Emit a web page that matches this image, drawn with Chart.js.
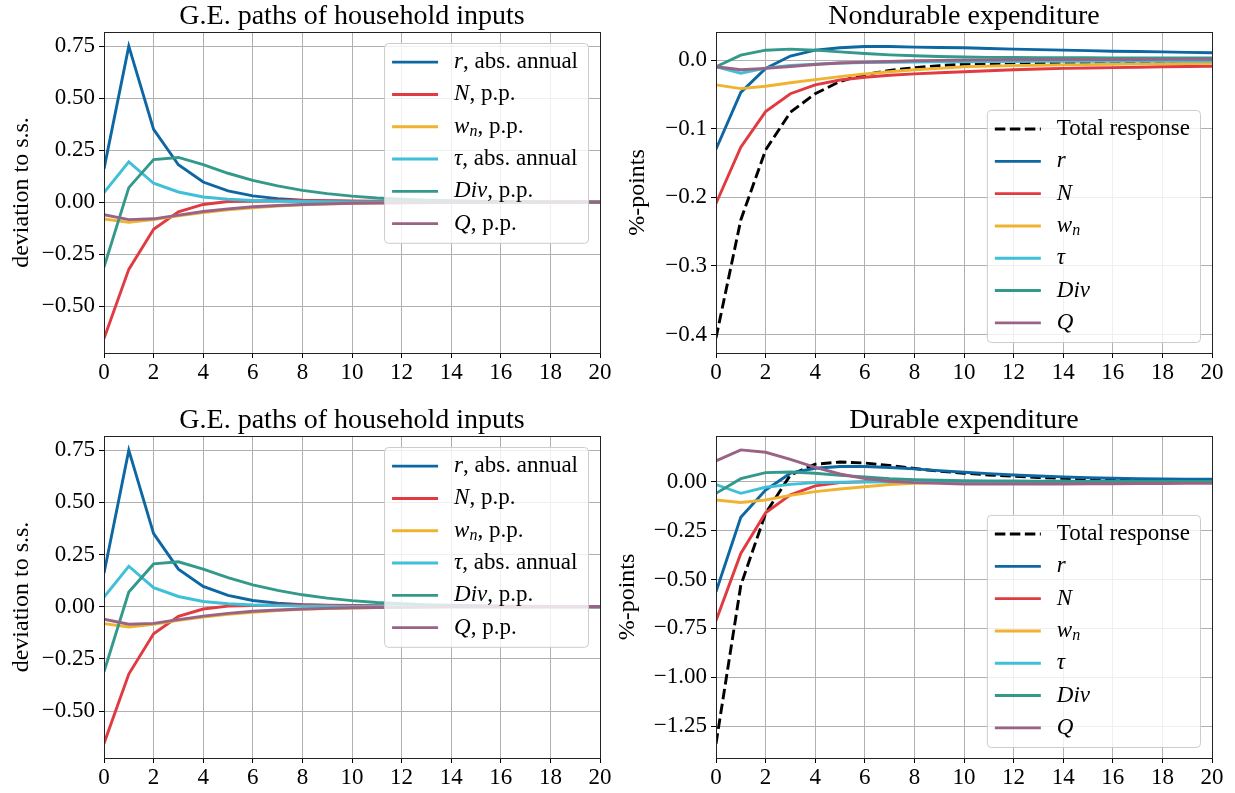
<!DOCTYPE html>
<html lang="en">
<head>
<meta charset="UTF-8">
<title>G.E. decomposition</title>
<style>
    body { margin: 0; background: #fff; }
    .wrap { position: relative; width: 1235px; height: 793px; }
    canvas { position: absolute; left: 0; top: 0; }
</style>
</head>
<body>
<div class="wrap">
    <canvas id="c0" width="1235" height="793"></canvas>
    <canvas id="c1" width="1235" height="793"></canvas>
    <canvas id="c2" width="1235" height="793"></canvas>
    <canvas id="c3" width="1235" height="793"></canvas>
</div>

<script src="https://cdn.jsdelivr.net/npm/chart.js"></script>
<script>
// horizon (quarters after shock)
const horizon = [0,1,2,3,4,5,6,7,8,9,10,11,12,13,14,15,16,17,18,19,20];

// series names (italic symbol, subscript)
const seriesSym = ['r', 'N', 'w', 'τ', 'Div', 'Q'];
const seriesSub = ['', '', 'n', '', '', ''];
const inputUnits = [', abs. annual', ', p.p.', ', p.p.', ', abs. annual', ', p.p.', ', p.p.'];
const totalLabel = 'Total response';

// G.E. paths of household inputs
const inR   = [0.16, 0.75, 0.35, 0.18, 0.097, 0.054, 0.03, 0.017, 0.01, 0.006, 0.004, 0.003, 0.002, 0.001, 0.001, 0.001, 0, 0, 0, 0, 0];
const inN   = [-0.655, -0.323, -0.13, -0.046, -0.011, 0.003, 0.006, 0.008, 0.008, 0.007, 0.006, 0.005, 0.004, 0.003, 0.003, 0.002, 0.002, 0.001, 0.001, 0.001, 0.001];
const inW   = [-0.081, -0.097, -0.084, -0.065, -0.05, -0.037, -0.027, -0.019, -0.013, -0.009, -0.006, -0.004, -0.003, -0.002, -0.001, -0.001, -0.001, 0, 0, 0, 0];
const inTau = [0.046, 0.194, 0.091, 0.049, 0.025, 0.014, 0.008, 0.005, 0.003, 0.002, 0.001, 0.001, 0.001, 0, 0, 0, 0, 0, 0, 0, 0];
const inDiv = [-0.312, 0.07, 0.205, 0.215, 0.18, 0.139, 0.105, 0.078, 0.057, 0.041, 0.029, 0.02, 0.014, 0.01, 0.007, 0.005, 0.003, 0.002, 0.001, 0.001, 0];
const inQ   = [-0.06, -0.084, -0.08, -0.062, -0.045, -0.032, -0.022, -0.016, -0.011, -0.008, -0.005, -0.004, -0.003, -0.002, -0.001, -0.001, 0, 0, 0, 0, 0];

// Nondurable expenditure decomposition
const ndTotal = [-0.405, -0.233, -0.131, -0.076, -0.049, -0.031, -0.021, -0.015, -0.011, -0.008, -0.006, -0.005, -0.004, -0.004, -0.003, -0.003, -0.003, -0.003, -0.003, -0.003, -0.003];
const ndR   = [-0.13, -0.047, -0.012, 0.006, 0.0145, 0.018, 0.0198, 0.0198, 0.019, 0.0185, 0.018, 0.017, 0.016, 0.0153, 0.0146, 0.0138, 0.013, 0.0125, 0.012, 0.0113, 0.0107];
const ndN   = [-0.209, -0.127, -0.075, -0.049, -0.036, -0.029, -0.025, -0.022, -0.02, -0.0185, -0.017, -0.0155, -0.014, -0.013, -0.012, -0.0115, -0.011, -0.0103, -0.0097, -0.0093, -0.009];
const ndW   = [-0.036, -0.0415, -0.038, -0.033, -0.0285, -0.024, -0.02, -0.017, -0.014, -0.012, -0.0097, -0.0088, -0.008, -0.0075, -0.007, -0.0065, -0.006, -0.0055, -0.0052, -0.005, -0.0048];
const ndTau = [-0.0097, -0.019, -0.0116, -0.0077, -0.0058, -0.0043, -0.0034, -0.003, -0.0027, -0.0025, -0.0023, -0.0021, -0.002, -0.0019, -0.0018, -0.0017, -0.0016, -0.0015, -0.0014, -0.0013, -0.0012];
const ndDiv = [-0.0097, 0.0072, 0.0145, 0.016, 0.0145, 0.012, 0.0097, 0.0077, 0.0063, 0.0052, 0.0045, 0.004, 0.0038, 0.0036, 0.0035, 0.0034, 0.0033, 0.0032, 0.0031, 0.003, 0.003];
const ndQ   = [-0.0097, -0.014, -0.012, -0.0092, -0.0063, -0.0043, -0.0029, -0.002, -0.001, -0.0004, 0, 0.0003, 0.0005, 0.0007, 0.0008, 0.0009, 0.001, 0.001, 0.0011, 0.0011, 0.0012];

// Durable expenditure decomposition
const dTotal = [-1.339, -0.53, -0.162, 0.034, 0.089, 0.1, 0.095, 0.082, 0.067, 0.053, 0.043, 0.034, 0.027, 0.021, 0.017, 0.013, 0.01, 0.008, 0.006, 0.005, 0.004];
const dR   = [-0.563, -0.182, -0.043, 0.043, 0.068, 0.077, 0.077, 0.072, 0.065, 0.056, 0.048, 0.041, 0.034, 0.029, 0.024, 0.02, 0.017, 0.015, 0.0136, 0.0125, 0.012];
const dN   = [-0.711, -0.367, -0.159, -0.068, -0.022, -0.005, 0, 0.002, 0.002, 0.002, 0.001, 0.001, 0, 0, 0, 0, 0, 0, 0, 0, 0];
const dW   = [-0.094, -0.107, -0.094, -0.07, -0.051, -0.038, -0.026, -0.015, -0.009, -0.005, -0.003, -0.002, -0.002, -0.001, -0.001, -0.001, -0.001, 0, 0, 0, 0];
const dTau = [-0.015, -0.06, -0.029, -0.014, -0.005, -0.003, -0.002, -0.001, -0.001, 0, 0, 0, 0, 0, 0, 0, 0, 0, 0, 0, 0];
const dDiv = [-0.06, 0.015, 0.046, 0.049, 0.043, 0.032, 0.024, 0.015, 0.01, 0.007, 0.005, 0.004, 0.003, 0.002, 0.002, 0.001, 0.001, 0.001, 0.001, 0.001, 0.001];
const dQ   = [0.106, 0.162, 0.15, 0.114, 0.073, 0.039, 0.015, 0.002, -0.005, -0.009, -0.012, -0.012, -0.012, -0.012, -0.012, -0.011, -0.011, -0.01, -0.01, -0.009, -0.009];

// tick labels
const xTicks = [0,2,4,6,8,10,12,14,16,18,20];
const yTicksInputs = [-0.5, -0.25, 0, 0.25, 0.5, 0.75];
const yTicksNondur = [-0.4, -0.3, -0.2, -0.1, 0];
const yTicksDur = [-1.25, -1, -0.75, -0.5, -0.25, 0];

const colors = ['#0c67a2', '#e13a40', '#efb330', '#3fbfd8', '#33998a', '#9a6385'];
const SERIF = '"Liberation Serif", "DejaVu Serif", serif';
const W = 1235, H = 793;
const LW = 2.9;

function fmt(v, dec) {
    const s = Math.abs(v).toFixed(dec);
    return (v < -1e-9 ? '\u2212' : '') + s;
}

// draw one legend label: italic symbol, optional subscript, roman rest
function drawLabel(ctx, x, y, sym, sub, rest) {
    ctx.textBaseline = 'middle';
    ctx.textAlign = 'left';
    if (sym) {
        ctx.font = 'italic 23px ' + SERIF;
        ctx.fillText(sym, x, y);
        x += ctx.measureText(sym).width;
    }
    if (sub) {
        ctx.font = 'italic 16px ' + SERIF;
        ctx.fillText(sub, x, y + 5);
        x += ctx.measureText(sub).width;
    }
    if (rest) {
        ctx.font = '23px ' + SERIF;
        ctx.fillText(rest, x, y);
        x += ctx.measureText(rest).width;
    }
    return x;
}

const framePlugin = {
    id: 'frame',
    afterDatasetsDraw(chart, args, opts) {
        const ctx = chart.ctx, a = chart.chartArea;
        ctx.save();
        ctx.strokeStyle = '#222';
        ctx.lineWidth = 1;
        ctx.strokeRect(Math.round(a.left) + 0.5, Math.round(a.top) + 0.5,
            Math.round(a.right - a.left), Math.round(a.bottom - a.top));

        // legend
        const items = opts.items;
        const rowH = 32.3;
        let maxW = 0;
        items.forEach(it => {
            let w = 0;
            ctx.font = 'italic 23px ' + SERIF; w += ctx.measureText(it.sym || '').width;
            ctx.font = 'italic 16px ' + SERIF; w += ctx.measureText(it.sub || '').width;
            ctx.font = '23px ' + SERIF; w += ctx.measureText(it.rest || '').width;
            maxW = Math.max(maxW, w);
        });
        const boxW = 8 + 46 + 16 + maxW + 10;
        const boxH = items.length * rowH + 6;
        const bx = a.right - 12 - boxW;
        const by = opts.place === 'top' ? a.top + 11 : a.bottom - 11 - boxH;
        ctx.beginPath();
        ctx.roundRect(bx + 0.5, by + 0.5, boxW, boxH, 4);
        ctx.fillStyle = 'rgba(255,255,255,0.8)';
        ctx.fill();
        ctx.strokeStyle = '#cccccc';
        ctx.stroke();
        items.forEach((it, i) => {
            const cy = by + 3 + rowH * (i + 0.5);
            ctx.beginPath();
            ctx.strokeStyle = it.color;
            ctx.lineWidth = LW;
            ctx.setLineDash(it.dash || []);
            ctx.moveTo(bx + 8, cy);
            ctx.lineTo(bx + 54, cy);
            ctx.stroke();
            ctx.setLineDash([]);
            ctx.fillStyle = '#000';
            drawLabel(ctx, bx + 70, cy, it.sym, it.sub, it.rest);
        });
        ctx.restore();
    },
    afterDraw(chart, args, opts) {
        const ctx = chart.ctx, a = chart.chartArea;
        ctx.save();
        ctx.fillStyle = '#000';
        ctx.font = '28px ' + SERIF;
        ctx.textAlign = 'center';
        ctx.textBaseline = 'alphabetic';
        ctx.fillText(opts.title, (a.left + a.right) / 2, a.top - 8);
        ctx.translate(a.left - opts.yTitleOff, (a.top + a.bottom) / 2);
        ctx.rotate(-Math.PI / 2);
        ctx.font = '24px ' + SERIF;
        ctx.fillText(opts.yTitle, 0, 0);
        ctx.restore();
    }
};

function makeChart(id, p) {
    const yW = 70, xH = 30;
    const datasets = p.series.map((s, i) => ({
        data: s.data.map((v, k) => ({ x: horizon[k], y: v })),
        borderColor: s.color,
        borderWidth: LW,
        borderDash: s.dash || [],
        pointRadius: 0,
        tension: 0,
        fill: false,
        order: p.series.length - i
    }));
    const tickFont = { family: SERIF, size: 23 };
    return new Chart(document.getElementById(id), {
        type: 'line',
        data: { datasets },
        plugins: [framePlugin],
        options: {
            responsive: false,
            animation: false,
            devicePixelRatio: 1,
            layout: { padding: { left: p.area.l - yW, top: p.area.t, right: W - p.area.r, bottom: H - p.area.b - xH } },
            plugins: {
                legend: { display: false },
                tooltip: { enabled: false },
                frame: { items: p.legend, place: p.place, title: p.title, yTitle: p.yTitle, yTitleOff: p.yTitleOff }
            },
            scales: {
                x: {
                    type: 'linear', min: 0, max: 20,
                    afterFit: s => { s.height = xH; },
                    afterBuildTicks: s => { s.ticks = xTicks.map(v => ({ value: v })); },
                    grid: { color: '#b0b0b0', lineWidth: 1, tickColor: '#000', tickLength: 5 },
                    border: { display: false },
                    ticks: { color: '#000', font: tickFont, padding: 1, maxRotation: 0,
                        callback: v => String(v) }
                },
                y: {
                    type: 'linear', min: p.yMin, max: p.yMax,
                    afterFit: s => { s.width = yW; },
                    afterBuildTicks: s => { s.ticks = p.yTicks.map(v => ({ value: v })); },
                    grid: { color: '#b0b0b0', lineWidth: 1, tickColor: '#000', tickLength: 5 },
                    border: { display: false },
                    ticks: { color: '#000', font: tickFont, padding: 4,
                        callback: v => fmt(v, p.dec) }
                }
            }
        }
    });
}

const inputData = [inR, inN, inW, inTau, inDiv, inQ];
const inputSeries = inputData.map((d, i) => ({ data: d, color: colors[i] }));
const inputLegend = seriesSym.map((s, i) => ({ sym: s, sub: seriesSub[i], rest: inputUnits[i], color: colors[i] }));

function decomp(total, parts) {
    return [{ data: total, color: '#000', dash: [10.5, 4.5] }]
        .concat(parts.map((d, i) => ({ data: d, color: colors[i] })));
}
const decompLegend = [{ sym: '', sub: '', rest: totalLabel, color: '#000', dash: [10.5, 4.5] }]
    .concat(seriesSym.map((s, i) => ({ sym: s, sub: seriesSub[i], rest: '', color: colors[i] })));

makeChart('c0', {
    area: { l: 104, t: 32, r: 600, b: 353 }, yMin: -0.725, yMax: 0.818, yTicks: yTicksInputs, dec: 2,
    series: inputSeries, legend: inputLegend, place: 'top',
    title: 'G.E. paths of household inputs', yTitle: 'deviation to s.s.', yTitleOff: 76
});
makeChart('c1', {
    area: { l: 716, t: 32, r: 1212, b: 353 }, yMin: -0.427, yMax: 0.041, yTicks: yTicksNondur, dec: 1,
    series: decomp(ndTotal, [ndR, ndN, ndW, ndTau, ndDiv, ndQ]), legend: decompLegend, place: 'bottom',
    title: 'Nondurable expenditure', yTitle: '%-points', yTitleOff: 72
});
makeChart('c2', {
    area: { l: 104, t: 436, r: 600, b: 758 }, yMin: -0.725, yMax: 0.818, yTicks: yTicksInputs, dec: 2,
    series: inputSeries, legend: inputLegend, place: 'top',
    title: 'G.E. paths of household inputs', yTitle: 'deviation to s.s.', yTitleOff: 76
});
makeChart('c3', {
    area: { l: 716, t: 436, r: 1212, b: 758 }, yMin: -1.412, yMax: 0.233, yTicks: yTicksDur, dec: 2,
    series: decomp(dTotal, [dR, dN, dW, dTau, dDiv, dQ]), legend: decompLegend, place: 'bottom',
    title: 'Durable expenditure', yTitle: '%-points', yTitleOff: 82
});
</script>
</body>
</html>
